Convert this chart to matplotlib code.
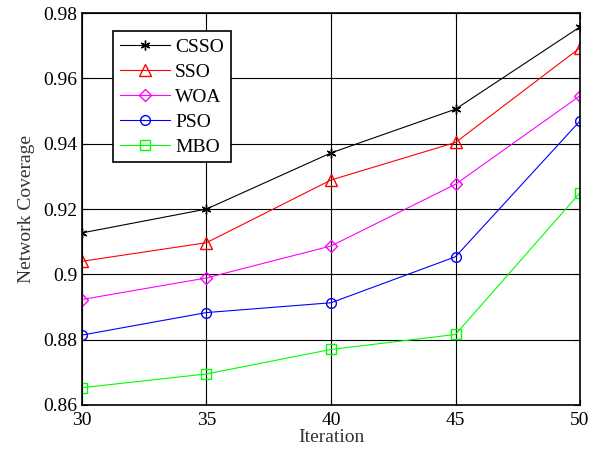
import numpy as np
from matplotlib import pyplot as plt

plt.rcParams['font.family'] = ['Liberation Serif', 'DejaVu Serif']

iteration = [30, 35, 40, 45, 50]
csso = [0.9127, 0.9200, 0.9372, 0.9506, 0.9758]
sso = [0.9040, 0.9097, 0.9289, 0.9404, 0.9694]
woa = [0.8923, 0.8989, 0.9087, 0.9276, 0.9547]
pso = [0.8814, 0.8883, 0.8913, 0.9054, 0.9470]
mbo = [0.8653, 0.8695, 0.8770, 0.8816, 0.9250]

fig = plt.figure(figsize=(5.98, 4.54), dpi=100)
ax = fig.add_axes([0.137, 0.108, 0.833, 0.863])

ax.plot(iteration, csso, color='black', marker=(6, 2, 0), ms=7, mew=1.0, lw=0.8, label='CSSO')
ax.plot(iteration, sso, color='red', marker='^', ms=8, mfc='none', lw=0.8, label='SSO')
ax.plot(iteration, woa, color='magenta', marker='D', ms=6, mfc='none', lw=0.8, label='WOA')
ax.plot(iteration, pso, color='blue', marker='o', ms=7, mfc='none', lw=0.8, label='PSO')
ax.plot(iteration, mbo, color='#00ff00', marker='s', ms=7, mfc='none', lw=0.8, label='MBO')

ax.set_xlim(30, 50)
ax.set_ylim(0.86, 0.98)
ax.set_xticks([30, 35, 40, 45, 50])
ax.set_yticks([0.86, 0.88, 0.9, 0.92, 0.94, 0.96, 0.98])
ax.set_yticklabels(['0.86', '0.88', '0.9', '0.92', '0.94', '0.96', '0.98'])
ax.grid(True, color='black', lw=0.8)
ax.tick_params(direction='in', labelsize=14, length=4, top=True, right=True)
ax.tick_params(axis='x', pad=5)
for s in ax.spines.values():
    s.set_linewidth(1.2)

ax.set_xlabel('Iteration', fontsize=14, labelpad=0, color='#333333')
ax.set_ylabel('Network Coverage', fontsize=14, labelpad=6, color='#333333')

leg = ax.legend(loc='upper left', bbox_to_anchor=(0.062, 0.954), fontsize=14,
                fancybox=False, framealpha=1, edgecolor='black', borderaxespad=0,
                handlelength=2.6, handletextpad=0.25, borderpad=0.35, labelspacing=0.38)
leg.get_frame().set_linewidth(1.2)

fig.savefig('out.png', dpi=100)
